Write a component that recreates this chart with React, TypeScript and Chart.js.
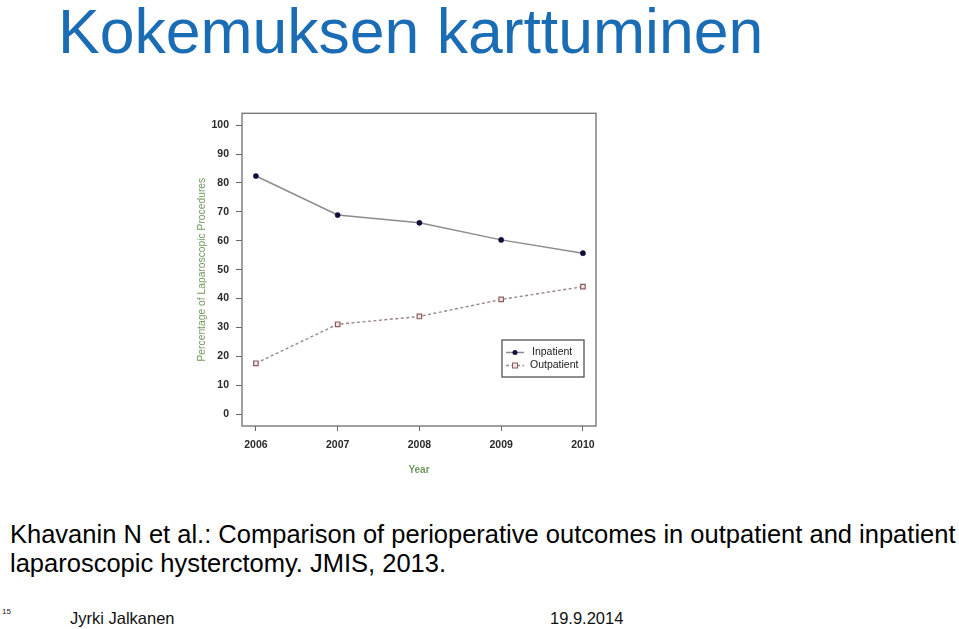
import React, { useEffect, useRef } from 'react';
import { Chart, registerables } from 'chart.js';

Chart.register(...registerables);

const years = [2006, 2007, 2008, 2009, 2010];
const inpatient = [82.4, 68.9, 66.2, 60.3, 55.7];
const outpatient = [17.6, 31.1, 33.8, 39.7, 44.1];
const yTicks = [0, 10, 20, 30, 40, 50, 60, 70, 80, 90, 100];

const FONT = 'Arial, "Liberation Sans", sans-serif';

// laatikko kuvaajan ympärille + R-tyylinen selite
const boxPlugin = {
  id: 'rBox',
  afterDraw(chart: any) {
    const { ctx, chartArea } = chart;
    const { left, top, right, bottom } = chartArea;
    ctx.save();
    ctx.strokeStyle = '#6e6e6e';
    ctx.lineWidth = 1.3;
    ctx.strokeRect(left, top, right - left, bottom - top);

    // selite
    const w = 82;
    const h = 37;
    const lx = right - 12 - w;
    const ly = bottom - 49 - h;
    ctx.strokeStyle = '#444';
    ctx.lineWidth = 1.2;
    ctx.strokeRect(lx, ly, w, h);
    chart.data.datasets.forEach((ds: any, i: number) => {
      const y = ly + 12.5 + i * 13;
      ctx.strokeStyle = ds.borderColor;
      ctx.lineWidth = ds.borderWidth;
      ctx.setLineDash(ds.borderDash || []);
      ctx.beginPath();
      ctx.moveTo(lx + 4, y);
      ctx.lineTo(lx + 22, y);
      ctx.stroke();
      ctx.setLineDash([]);
      ctx.fillStyle = ds.pointBackgroundColor;
      ctx.strokeStyle = ds.pointBorderColor;
      ctx.lineWidth = 1;
      if (ds.pointStyle === 'rect') {
        ctx.fillRect(lx + 10.5, y - 2.5, 5, 5);
        ctx.strokeRect(lx + 10.5, y - 2.5, 5, 5);
      } else {
        ctx.beginPath();
        ctx.arc(lx + 13, y, 2.5, 0, Math.PI * 2);
        ctx.fill();
      }
      ctx.fillStyle = '#222';
      ctx.font = `10.5px ${FONT}`;
      ctx.textBaseline = 'middle';
      ctx.fillText(ds.label, lx + 30 - (i === 1 ? 2 : 0), y);
    });
    ctx.restore();
  },
};

const LaparoscopyChart: React.FC = () => {
  const chartRef = useRef<HTMLCanvasElement>(null);

  useEffect(() => {
    if (!chartRef.current) return;

    const chart = new Chart(chartRef.current, {
      type: 'line',
      data: {
        datasets: [
          {
            label: 'Inpatient',
            data: years.map((x, i) => ({ x, y: inpatient[i] })),
            borderColor: '#8c8c8c',
            borderWidth: 1.5,
            pointStyle: 'circle',
            pointRadius: 2.6,
            pointBackgroundColor: '#0e0e38',
            pointBorderColor: '#0e0e38',
            pointBorderWidth: 0.5,
            tension: 0,
          },
          {
            label: 'Outpatient',
            data: years.map((x, i) => ({ x, y: outpatient[i] })),
            borderColor: '#9a8686',
            borderWidth: 1.4,
            borderDash: [3, 2.5],
            pointStyle: 'rect',
            pointRadius: 3.2,
            pointBackgroundColor: '#f1e4e4',
            pointBorderColor: '#8a5e5e',
            pointBorderWidth: 1.2,
            tension: 0,
          },
        ],
      } as any,
      options: {
        animation: false,
        responsive: false,
        maintainAspectRatio: false,
        layout: { padding: { top: 10, right: 14, left: 0, bottom: 0 } },
        plugins: {
          legend: { display: false },
          tooltip: { enabled: false },
        },
        scales: {
          x: {
            type: 'linear',
            min: 2005.83,
            max: 2010.16,
            afterBuildTicks: (axis: any) => {
              axis.ticks = years.map((v) => ({ value: v }));
            },
            afterFit: (axis: any) => {
              axis.height = 64;
            },
            border: { display: false },
            grid: { drawOnChartArea: false, drawTicks: true, tickLength: 5, color: '#666' },
            ticks: {
              color: '#2a2a2a',
              font: { size: 10.5, weight: 'bold', family: FONT },
              padding: 8,
              maxRotation: 0,
              callback: (v: any) => String(v),
            },
            title: {
              display: true,
              text: 'Year',
              color: '#739a60',
              font: { size: 10, weight: 'bold', family: FONT },
              padding: { top: 4, bottom: 14 },
            },
          },
          y: {
            type: 'linear',
            min: -4.1,
            max: 104.1,
            afterBuildTicks: (axis: any) => {
              axis.ticks = yTicks.map((v) => ({ value: v }));
            },
            afterFit: (axis: any) => {
              axis.width = 52;
            },
            border: { display: false },
            grid: { drawOnChartArea: false, drawTicks: true, tickLength: 6, color: '#666' },
            ticks: {
              color: '#2a2a2a',
              font: { size: 10.5, weight: 'bold', family: FONT },
              padding: 7,
            },
            title: {
              display: true,
              text: 'Percentage of Laparoscopic Procedures',
              color: '#739a60',
              font: { size: 10.3, family: FONT },
              padding: { top: 6, bottom: 4 },
            },
          },
        },
      } as any,
      plugins: [boxPlugin],
    });

    return () => chart.destroy();
  }, []);

  return (
    <canvas
      ref={chartRef}
      width={420}
      height={390}
      style={{ position: 'absolute', left: 190, top: 100, width: 420, height: 390 }}
    />
  );
};

export default function App() {
  return (
    <div
      style={{
        position: 'fixed',
        left: 0,
        top: 0,
        width: 959,
        height: 629,
        background: '#fff',
        fontFamily: FONT,
        overflow: 'hidden',
      }}
    >
      <div
        style={{
          position: 'absolute',
          left: 58,
          top: 0,
          fontSize: 62.5,
          lineHeight: '62px',
          color: '#1a6db5',
          whiteSpace: 'nowrap',
        }}
      >
        Kokemuksen karttuminen
      </div>
      <LaparoscopyChart />
      <div
        style={{
          position: 'absolute',
          left: 10,
          top: 520,
          fontSize: 25.5,
          lineHeight: '28.5px',
          color: '#000',
          whiteSpace: 'nowrap',
        }}
      >
        Khavanin N et al.: Comparison of perioperative outcomes in outpatient and inpatient
        <br />
        laparoscopic hysterctomy. JMIS, 2013.
      </div>
      <div style={{ position: 'absolute', left: 2, top: 607, fontSize: 8, color: '#222' }}>15</div>
      <div
        style={{ position: 'absolute', left: 70, top: 608, fontSize: 16.5, lineHeight: '20px', color: '#111' }}
      >
        Jyrki Jalkanen
      </div>
      <div
        style={{ position: 'absolute', left: 550, top: 608, fontSize: 16.5, lineHeight: '20px', color: '#111' }}
      >
        19.9.2014
      </div>
    </div>
  );
}
